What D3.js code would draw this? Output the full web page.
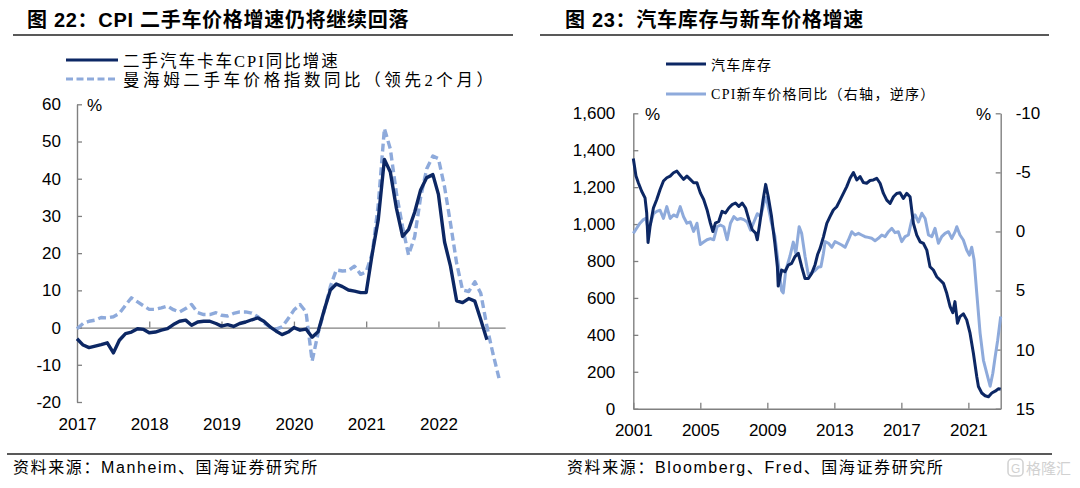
<!DOCTYPE html>
<html><head><meta charset="utf-8">
<script src="https://cdn.jsdelivr.net/npm/d3@7"></script>
<style>
html,body{margin:0;padding:0;background:#fff;}
svg{display:block;}
.tick text{font-family:"Liberation Sans",Arial,sans-serif;font-size:17px;fill:#000;}
</style></head><body>
<svg id="c" width="1080" height="488"></svg>
<script>
// ---------- DATA: left chart (monthly, Mar 2017 onward) ----------
const leftStartMonth = "2017-03";
const leftYearTicks = ["2017-03","2018-03","2019-03","2020-03","2021-03","2022-03"];
const leftYearLabels = ["2017","2018","2019","2020","2021","2022"];
const leftYTicks = [-20,-10,0,10,20,30,40,50,60];
const usedCarCPI = [-3.0,-4.7,-5.4,-5.0,-4.6,-4.1,-6.8,-3.4,-1.6,-1.2,
  -0.3,-0.5,-1.4,-1.2,-0.7,-0.3,0.8,1.7,2.0,0.6,
  1.5,1.7,1.7,1.1,0.4,0.8,0.3,1.1,1.5,2.1,
  2.6,1.7,0.2,-0.9,-1.9,-1.2,0.0,-0.7,-0.4,-2.6,
  -1.1,4.7,10.1,11.7,11.0,10.1,9.8,9.4,9.4,20.0,
  29.0,45.2,41.8,32.0,24.5,26.3,31.0,37.0,40.3,41.1,
  35.8,23.0,16.5,7.2,6.7,7.8,7.1,2.1,-3.3];
const manheimLead2 = [-0.3,1.1,1.7,2.0,2.7,2.6,2.9,3.8,6.0,8.0,
  6.9,5.8,4.9,4.9,5.3,5.8,4.8,4.2,5.1,6.2,
  4.0,3.5,3.5,4.0,3.3,3.1,3.8,4.2,4.2,3.9,
  2.9,1.3,0.2,-0.4,0.2,2.4,4.7,6.2,4.2,-9.0,
  -1.5,4.5,11.0,15.5,15.2,15.3,16.5,14.3,15.0,20.0,
  33.0,53.5,48.0,36.0,27.0,19.5,24.4,35.0,42.7,46.1,
  45.4,37.8,28.0,17.3,10.1,9.7,12.3,9.2,0.3,-6.9,-13.6];
const leftLegend = ["二手汽车卡车CPI同比增速","曼海姆二手车价格指数同比（领先2个月）"];

// ---------- DATA: right chart ----------
const rightXTicks = [2001,2005,2009,2013,2017,2021];
const rightYTicks = [0,200,400,600,800,1000,1200,1400,1600];
const rightY2Ticks = [-10,-5,0,5,10,15];
const invDates = [2001.0,2001.16,2001.3,2001.5,2001.7,2001.8,2001.88,2002.0,2002.2,2002.4,2002.6,2002.8,
  2003.0,2003.2,2003.4,2003.6,2003.8,2004.0,2004.2,2004.4,2004.6,2004.8,2005.0,2005.2,2005.4,2005.6,
  2005.75,2005.9,2006.1,2006.3,2006.5,2006.7,2006.9,2007.1,2007.3,2007.5,2007.7,2007.9,2008.1,2008.3,
  2008.4,2008.55,2008.75,2008.9,2009.05,2009.25,2009.45,2009.6,2009.65,2009.85,2010.05,2010.25,2010.45,
  2010.65,2010.85,2011.05,2011.25,2011.45,2011.65,2011.85,2012.0,2012.15,2012.35,2012.55,2012.74,2012.94,
  2013.14,2013.34,2013.54,2013.74,2013.94,2014.14,2014.34,2014.54,2014.73,2014.93,2015.13,2015.33,2015.53,
  2015.73,2015.93,2016.13,2016.33,2016.53,2016.72,2016.92,2017.12,2017.32,2017.52,2017.72,2017.92,2018.12,
  2018.32,2018.52,2018.71,2018.91,2019.11,2019.31,2019.51,2019.71,2019.91,2020.07,2020.2,2020.35,2020.5,
  2020.7,2020.9,2021.1,2021.3,2021.5,2021.6,2021.8,2022.0,2022.2,2022.4,2022.6,2022.8,2022.93];
const invValues = [1355,1260,1224,1178,1142,1060,900,987,1087,1133,1187,1233,
  1251,1260,1278,1287,1264,1242,1260,1242,1224,1224,1169,1133,1078,1005,
  960,1005,1014,1069,1060,1087,1105,1114,1096,1114,1087,1024,969,951,
  915,1005,1133,1215,1151,1042,896,769,664,751,742,778,787,
  824,842,769,705,705,733,780,835,868,931,1004,1040,1076,
  1094,1130,1166,1203,1248,1279,1239,1257,1225,1221,1236,1239,1248,
  1221,1166,1130,1112,1148,1166,1170,1139,1166,1148,1004,940,904,
  895,859,769,751,715,697,679,625,553,520,580,463,499,
  514,481,409,300,174,120,85,70,65,85,95,108,105];
const cpiNewDates = [2001.0,2001.2,2001.4,2001.6,2001.75,2001.9,2002.05,2002.2,2002.4,2002.6,2002.8,
  2003.0,2003.2,2003.4,2003.6,2003.8,2004.0,2004.2,2004.4,2004.6,2004.8,2005.0,2005.2,2005.4,2005.6,2005.8,
  2006.0,2006.2,2006.4,2006.6,2006.8,2007.0,2007.2,2007.4,2007.6,2007.8,2008.0,2008.2,2008.4,2008.6,2008.8,
  2008.95,2009.05,2009.25,2009.45,2009.6,2009.75,2009.85,2009.95,2010.1,2010.35,2010.55,2010.7,2010.9,
  2011.05,2011.25,2011.45,2011.65,2011.85,2012.05,2012.2,2012.35,2012.45,2012.65,2012.85,2013.04,2013.24,
  2013.44,2013.64,2013.84,2014.04,2014.24,2014.44,2014.63,2014.83,2015.03,2015.23,2015.43,2015.63,2015.83,
  2016.03,2016.23,2016.43,2016.62,2016.82,2017.02,2017.22,2017.42,2017.62,2017.82,2018.02,2018.22,2018.42,
  2018.62,2018.82,2019.01,2019.21,2019.41,2019.61,2019.81,2020.01,2020.21,2020.31,2020.5,2020.7,2020.9,
  2021.06,2021.2,2021.34,2021.5,2021.7,2021.9,2022.1,2022.3,2022.46,2022.6,2022.75,2022.93];
const cpiNewValues = [0.16,-0.27,-0.7,-1.0,-1.1,-0.1,-0.8,-1.5,-1.7,-1.8,-1.1,
  -2.1,-1.1,-1.4,-1.25,-2.1,-1.25,-0.7,-0.8,0,-0.7,1.1,0.9,0.7,0.6,0.7,
  -0.4,-0.55,-0.4,0.7,-0.7,-1.25,-1.0,-1.1,-1.0,-0.8,-0.1,-0.8,-1.5,-1.25,-2.4,
  -2.9,-2.1,-0.7,0.4,2.1,3.8,5.0,5.2,3.3,2.1,0.9,1.85,-0.4,
  0.16,2.1,3.7,3.5,3.3,3.0,2.98,1.85,0.86,1.0,1.34,0.86,1.0,
  1.15,1.34,0.72,0.02,0.3,0.16,0.3,0.44,0.5,0.58,0.78,0.58,0.3,
  0.44,0.02,-0.26,0.1,0.02,0.86,0.44,0.3,-0.97,-1.4,-0.8,-1.54,-1.1,
  0.3,0.44,-0.26,1.0,0.44,0.16,0.02,0.58,0.02,-0.4,0.3,0.72,1.57,
  2.0,1.34,2.4,5.2,8.6,10.9,12.0,13.1,12.0,10.6,9.2,7.2];
const rightLegend = ["汽车库存","CPI新车价格同比（右轴，逆序）"];

const titles = ["图 22：CPI 二手车价格增速仍将继续回落","图 23：汽车库存与新车价格增速"];
const sources = ["资料来源：Manheim、国海证券研究所","资料来源：Bloomberg、Fred、国海证券研究所"];

// ---------- STYLE ----------
const DARK = "#0c2764", LIGHT = "#8eaadb", AXIS = "#808080";
const CJK = '"Liberation Sans","Noto Sans CJK SC",sans-serif';
const SERIF = '"Liberation Serif","Noto Sans CJK SC",serif';
const plainNum = d => String(d);

const svg = d3.select("#c");
svg.append("rect").attr("width",1080).attr("height",488).attr("fill","#fff");

// titles & rules
svg.append("text").attr("x",27).attr("y",27).text(titles[0])
  .attr("font-family",CJK).attr("font-weight","bold").attr("font-size",20).attr("letter-spacing",0.7);
svg.append("text").attr("x",565).attr("y",27).text(titles[1])
  .attr("font-family",CJK).attr("font-weight","bold").attr("font-size",20).attr("letter-spacing",0.7);
svg.append("line").attr("x1",13).attr("x2",513).attr("y1",35).attr("y2",35).attr("stroke","#595959").attr("stroke-width",2);
svg.append("line").attr("x1",540).attr("x2",1049).attr("y1",35).attr("y2",35).attr("stroke","#595959").attr("stroke-width",2);
svg.append("line").attr("x1",7).attr("x2",1052).attr("y1",454).attr("y2",454).attr("stroke","#222").attr("stroke-width",1.3);
svg.append("text").attr("x",13).attr("y",473).text(sources[0]).attr("font-family",CJK).attr("font-size",16).attr("letter-spacing",1.6);
svg.append("text").attr("x",567).attr("y",473).text(sources[1]).attr("font-family",CJK).attr("font-size",16).attr("letter-spacing",1.6);
// watermark
const wm = svg.append("g").attr("opacity",0.45);
wm.append("rect").attr("x",1008).attr("y",459).attr("width",15).attr("height",17).attr("rx",4)
  .attr("fill","none").attr("stroke","#9a9a9a").attr("stroke-width",1.5);
wm.append("text").attr("x",1011).attr("y",473).text("G").attr("font-family",CJK).attr("font-size",12).attr("fill","#9a9a9a");
wm.append("text").attr("x",1026).attr("y",474).text("格隆汇").attr("font-family",CJK).attr("font-size",15).attr("fill","#9a9a9a");

function styleAxis(g){
  g.selectAll(".domain").attr("stroke",AXIS).attr("stroke-width",1.4);
  g.selectAll(".tick line").attr("stroke",AXIS).attr("stroke-width",1.3);
}

// ---------- LEFT CHART ----------
const parseM = d3.utcParse("%Y-%m");
const m0 = parseM(leftStartMonth);
const nMonths = manheimLead2.length;
const leftDates = d3.range(nMonths).map(i => d3.utcMonth.offset(m0, i));
const xL = d3.scaleUtc().domain([m0, d3.utcMonth.offset(m0, nMonths)]).range([77, 77 + 6.03*nMonths]);
const yL = d3.scaleLinear().domain([-20,60]).range([402,104.3]);
const tickDatesL = leftYearTicks.map(parseM);

const gYL = svg.append("g").attr("transform","translate(77,0)")
  .call(d3.axisLeft(yL).tickValues(leftYTicks).tickSizeInner(-5).tickSizeOuter(0).tickPadding(16).tickFormat(plainNum));
styleAxis(gYL);
const gXL = svg.append("g").attr("transform",`translate(0,${yL(0)})`)
  .call(d3.axisBottom(xL).tickValues(tickDatesL.slice(1)).tickSizeInner(-6).tickSizeOuter(0).tickFormat(""));
styleAxis(gXL);
const gXLlab = svg.append("g").attr("transform","translate(0,418)")
  .call(d3.axisBottom(xL).tickValues(tickDatesL).tickSize(0).tickPadding(0)
    .tickFormat((d,i)=>leftYearLabels[i]));
gXLlab.select(".domain").remove();
gXLlab.selectAll("text").attr("dy","0.72em");
svg.append("text").attr("x",87).attr("y",111).text("%")
  .attr("font-family",'"Liberation Sans",Arial,sans-serif').attr("font-size",17);

const lineL = d3.line().x((d,i)=>xL(leftDates[i])).y(d=>yL(d));
svg.append("path").datum(manheimLead2).attr("d",lineL).attr("fill","none")
  .attr("stroke",LIGHT).attr("stroke-width",3.4).attr("stroke-dasharray","8,4").attr("stroke-linejoin","round");
svg.append("path").datum(usedCarCPI).attr("d",lineL).attr("fill","none")
  .attr("stroke",DARK).attr("stroke-width",3.4).attr("stroke-linejoin","round");

// left legend
svg.append("line").attr("x1",66).attr("x2",118).attr("y1",60).attr("y2",60).attr("stroke",DARK).attr("stroke-width",3);
svg.append("line").attr("x1",66).attr("x2",118).attr("y1",79).attr("y2",79).attr("stroke",LIGHT).attr("stroke-width",3).attr("stroke-dasharray","7,3.5");
svg.append("text").attr("x",123).attr("y",67).text(leftLegend[0]).attr("font-family",SERIF).attr("font-size",16.5).attr("letter-spacing",2.0);
svg.append("text").attr("x",123).attr("y",86).text(leftLegend[1]).attr("font-family",SERIF).attr("font-size",16.5).attr("letter-spacing",3.6);

// ---------- RIGHT CHART ----------
const xR = d3.scaleLinear().domain([2001, 2022.93]).range([633.3, 1000.7]);
const yR = d3.scaleLinear().domain([0,1600]).range([408.7,113.3]);
const yR2 = d3.scaleLinear().domain([-10,15]).range([113.3,408.7]);

const gYR = svg.append("g").attr("transform","translate(633.3,0)")
  .call(d3.axisLeft(yR).tickValues(rightYTicks).tickSizeInner(-5).tickSizeOuter(0).tickPadding(18).tickFormat(d3.format(",")));
styleAxis(gYR);
const gYR2 = svg.append("g").attr("transform","translate(1000.7,0)")
  .call(d3.axisRight(yR2).tickValues(rightY2Ticks).tickSizeInner(-5).tickSizeOuter(0).tickPadding(15).tickFormat(plainNum));
styleAxis(gYR2);
const gXR = svg.append("g").attr("transform","translate(0,408.7)")
  .call(d3.axisBottom(xR).tickValues(rightXTicks).tickSizeInner(-6).tickSizeOuter(0).tickFormat(""));
styleAxis(gXR);
const gXRlab = svg.append("g").attr("transform","translate(0,424)")
  .call(d3.axisBottom(xR).tickValues(rightXTicks).tickSize(0).tickPadding(0).tickFormat(d3.format("d")));
gXRlab.select(".domain").remove();
gXRlab.selectAll("text").attr("dy","0.72em");
svg.append("text").attr("x",645).attr("y",120).text("%").attr("font-family",'"Liberation Sans",Arial,sans-serif').attr("font-size",17);
svg.append("text").attr("x",976).attr("y",120).text("%").attr("font-family",'"Liberation Sans",Arial,sans-serif').attr("font-size",17);

const lineInv = d3.line().x((d,i)=>xR(invDates[i])).y(d=>yR(d));
const lineNew = d3.line().x((d,i)=>xR(cpiNewDates[i])).y(d=>yR2(d));
svg.append("path").datum(cpiNewValues).attr("d",lineNew).attr("fill","none")
  .attr("stroke",LIGHT).attr("stroke-width",3).attr("stroke-linejoin","round");
svg.append("path").datum(invValues).attr("d",lineInv).attr("fill","none")
  .attr("stroke",DARK).attr("stroke-width",3).attr("stroke-linejoin","round");

// right legend
svg.append("line").attr("x1",666).attr("x2",706).attr("y1",64).attr("y2",64).attr("stroke",DARK).attr("stroke-width",3);
svg.append("line").attr("x1",666).attr("x2",706).attr("y1",94).attr("y2",94).attr("stroke",LIGHT).attr("stroke-width",3);
svg.append("text").attr("x",711).attr("y",70).text(rightLegend[0]).attr("font-family",SERIF).attr("font-size",14).attr("letter-spacing",1.3);
svg.append("text").attr("x",711).attr("y",99).text(rightLegend[1]).attr("font-family",SERIF).attr("font-size",14).attr("letter-spacing",1.3);
</script>
</body></html>
